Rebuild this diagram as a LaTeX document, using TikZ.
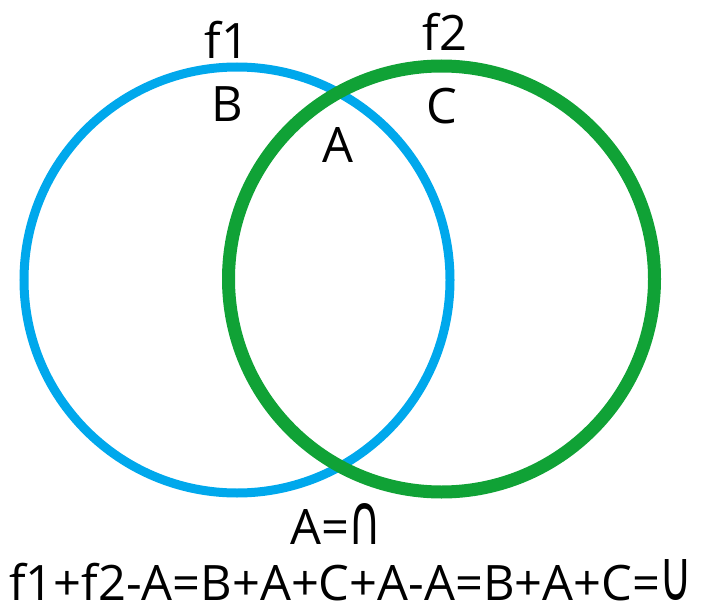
\documentclass[tikz,border=0pt]{standalone}
\usepackage{fontspec}
\usepackage{graphicx}
\setmainfont{Open Sans}
\newfontfamily\symfont{DejaVu Sans}
\newcommand{\tallsym}[1]{\scalebox{0.92}[1.45]{\symfont #1}}
\usetikzlibrary{positioning}

\definecolor{setblue}{HTML}{00A8EC}
\definecolor{setgreen}{HTML}{10A236}

\begin{document}
\begin{tikzpicture}[
  x=1bp, y=-1bp,
  lbl/.style={font=\fontsize{49}{52}\selectfont, inner sep=0pt, anchor=base},
  ring/.style={line width=#1},
]
  % Bounding box of the reference
  \useasboundingbox (0,0) rectangle (701,607);

  % The two sets
  \draw[setblue, ring=9bp]   (237,280) circle[radius=213];
  \draw[setgreen, ring=13bp] (441.5,279) circle[radius=213];

  % Labels of the regions
  \node[lbl] (f1) at (227,59)  {f1};
  \node[lbl] (b)  at (227,122) {B};
  \node[lbl] (f2) at (445,51)  {f2};
  \node[lbl] (c)  at (442,124) {C};
  \node[lbl] (a)  at (338,163) {A};

  % Formulas
  \node[lbl] (cap) at (336,544) {A=\tallsym{∩}};
  \node[lbl] (cup) at (351,600) {f1+f2-A=B+A+C+A-A=B+A+C=\tallsym{∪}};
\end{tikzpicture}
\end{document}
